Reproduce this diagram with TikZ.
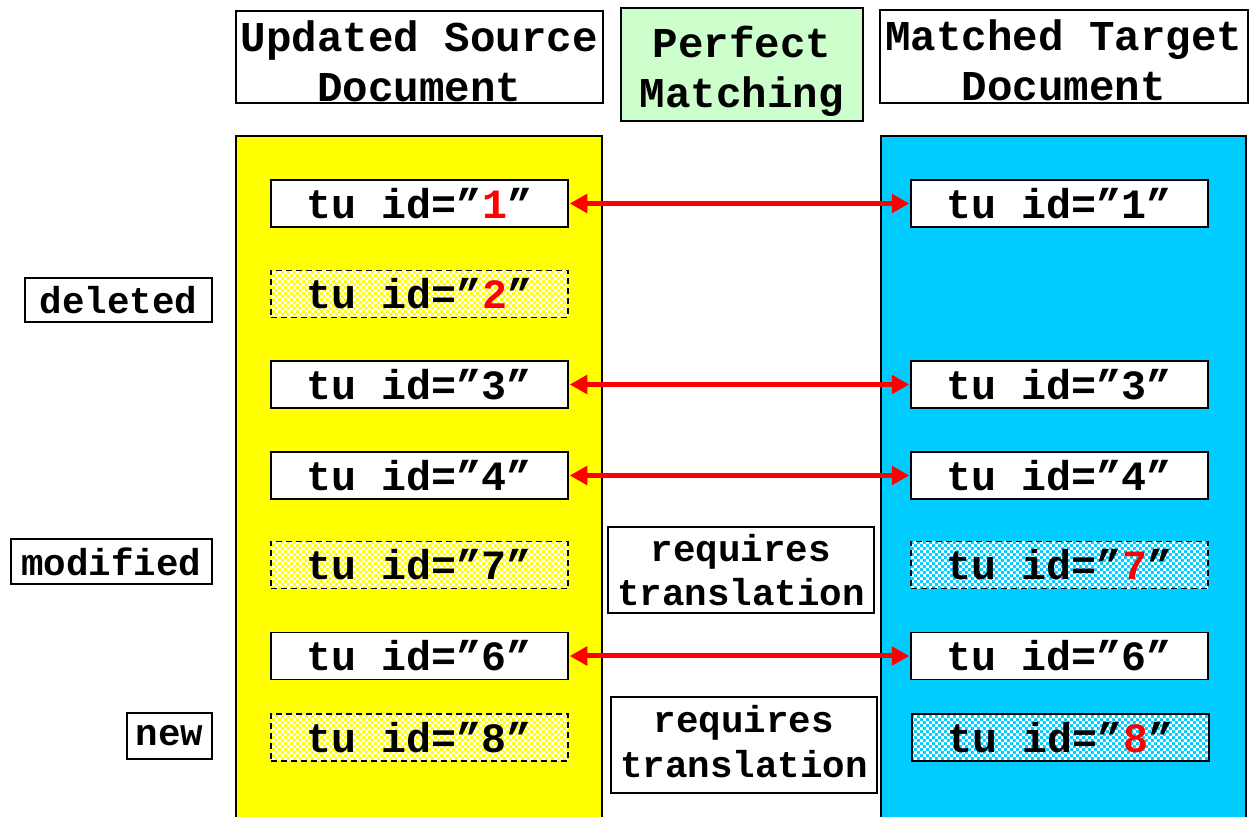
\documentclass[tikz,border=0pt]{standalone}
\usepackage{fontspec}
\setmainfont{Liberation Mono}
\usetikzlibrary{arrows.meta,patterns}
\pgfdeclarepatternformonly{checker}{\pgfqpoint{0pt}{0pt}}{\pgfqpoint{3.6pt}{3.6pt}}{\pgfqpoint{3.6pt}{3.6pt}}{%
  \pgfpathrectangle{\pgfqpoint{0pt}{0pt}}{\pgfqpoint{1.8pt}{1.8pt}}%
  \pgfpathrectangle{\pgfqpoint{1.8pt}{1.8pt}}{\pgfqpoint{1.8pt}{1.8pt}}%
  \pgfusepath{fill}}
\definecolor{ylw}{HTML}{FFFF00}
\definecolor{cyn}{HTML}{00CCFF}
\definecolor{grn}{HTML}{CCFFCC}
\definecolor{rd}{HTML}{FF0000}
\newcommand{\rn}[1]{\textcolor{rd}{#1}}
\begin{document}
\begin{tikzpicture}[x=0.6pt,y=-0.6pt,
  sz/.style 2 args={minimum width=#1*0.6pt, minimum height=#2*0.6pt},
  boxed/.style={draw=black, line width=1.1pt, inner sep=0pt, align=center},
  hdrtxt/.style={inner sep=0pt, align=center, font=\fontsize{25.5}{30}\selectfont\bfseries},
  hdr/.style={boxed, fill=white},
  tufont/.style={font=\fontsize{25}{30}\selectfont\bfseries},
  tubox/.style={boxed, fill=white, sz={297}{47}, tufont},
  tunew/.style={boxed, dash pattern=on 3.6pt off 2.4pt, pattern=checker, pattern color=white, sz={297}{47}, tufont},
  lbl/.style={boxed, fill=white, font=\fontsize{22.5}{26.5}\selectfont\bfseries},
  lbltxt/.style={inner sep=0pt, align=center, font=\fontsize{22.5}{26.5}\selectfont\bfseries},
  link/.style={draw=rd, line width=3pt, {Triangle[length=10.5pt,width=11pt]}-{Triangle[length=10.5pt,width=11pt]}, shorten <=0.5pt, shorten >=0.5pt}
]
\clip (0,0) rectangle (1250,817);
\fill[white] (0,0) rectangle (1250,817);

% columns
\draw[fill=ylw, line width=1.1pt] (236,136) rectangle (602,840);
\draw[fill=cyn, line width=1.1pt] (881,136) rectangle (1246,840);

% headers
\node[hdr, sz={367}{92}, label={[hdrtxt, yshift=-2.4pt]center:{Updated Source\\Document}}] (hsrc) at (419.5,57) {};
\node[hdr, sz={242}{113}, fill=grn, label={[hdrtxt, yshift=-4pt]center:{Perfect\\Matching}}] (hpm) at (742,64.5) {};
\node[hdr, sz={368}{93}, label={[hdrtxt, yshift=-2.4pt]center:{Matched Target\\Document}}] (htgt) at (1064,56.5) {};

% left column
\node[tubox] (s1) at (419.5,203.5) {tu id=”\rn{1}”};
\node[tunew] (s2) at (419.5,294) {tu id=”\rn{2}”};
\node[tubox] (s3) at (419.5,384.5) {tu id=”3”};
\node[tubox] (s4) at (419.5,475.5) {tu id=”4”};
\node[tunew] (s7) at (419.5,565) {tu id=”7”};
\node[tubox] (s6) at (419.5,656) {tu id=”6”};
\node[tunew] (s8) at (419.5,737.5) {tu id=”8”};

% right column
\node[tubox] (t1) at (1059.5,203.5) {tu id=”1”};
\node[tubox] (t3) at (1059.5,384.5) {tu id=”3”};
\node[tubox] (t4) at (1059.5,475.5) {tu id=”4”};
\node[tunew] (t7) at (1059.5,565) {tu id=”\rn{7}”};
\node[tubox] (t6) at (1059.5,656) {tu id=”6”};
\node[tunew, solid] (t8) at (1060.5,737.5) {tu id=”\rn{8}”};

% side labels
\node[lbl, sz={187}{44}] (ldel) at (118.5,300) {deleted};
\node[lbl, sz={201}{45}] (lmod) at (111.5,561.5) {modified};
\node[lbl, sz={85}{46}] (lnew) at (169.5,736) {new};

% requires translation
\node[lbl, sz={266}{86}] (rq1) at (741,570) {requires\\translation};
\node[hdr, sz={266}{96}, label={[lbltxt, yshift=2pt]center:{requires\\translation}}] (rq2) at (744,745) {};

% links
\draw[link] (s1.east) -- (t1.west);
\draw[link] (s3.east) -- (t3.west);
\draw[link] (s4.east) -- (t4.west);
\draw[link] (s6.east) -- (t6.west);
\end{tikzpicture}
\end{document}
